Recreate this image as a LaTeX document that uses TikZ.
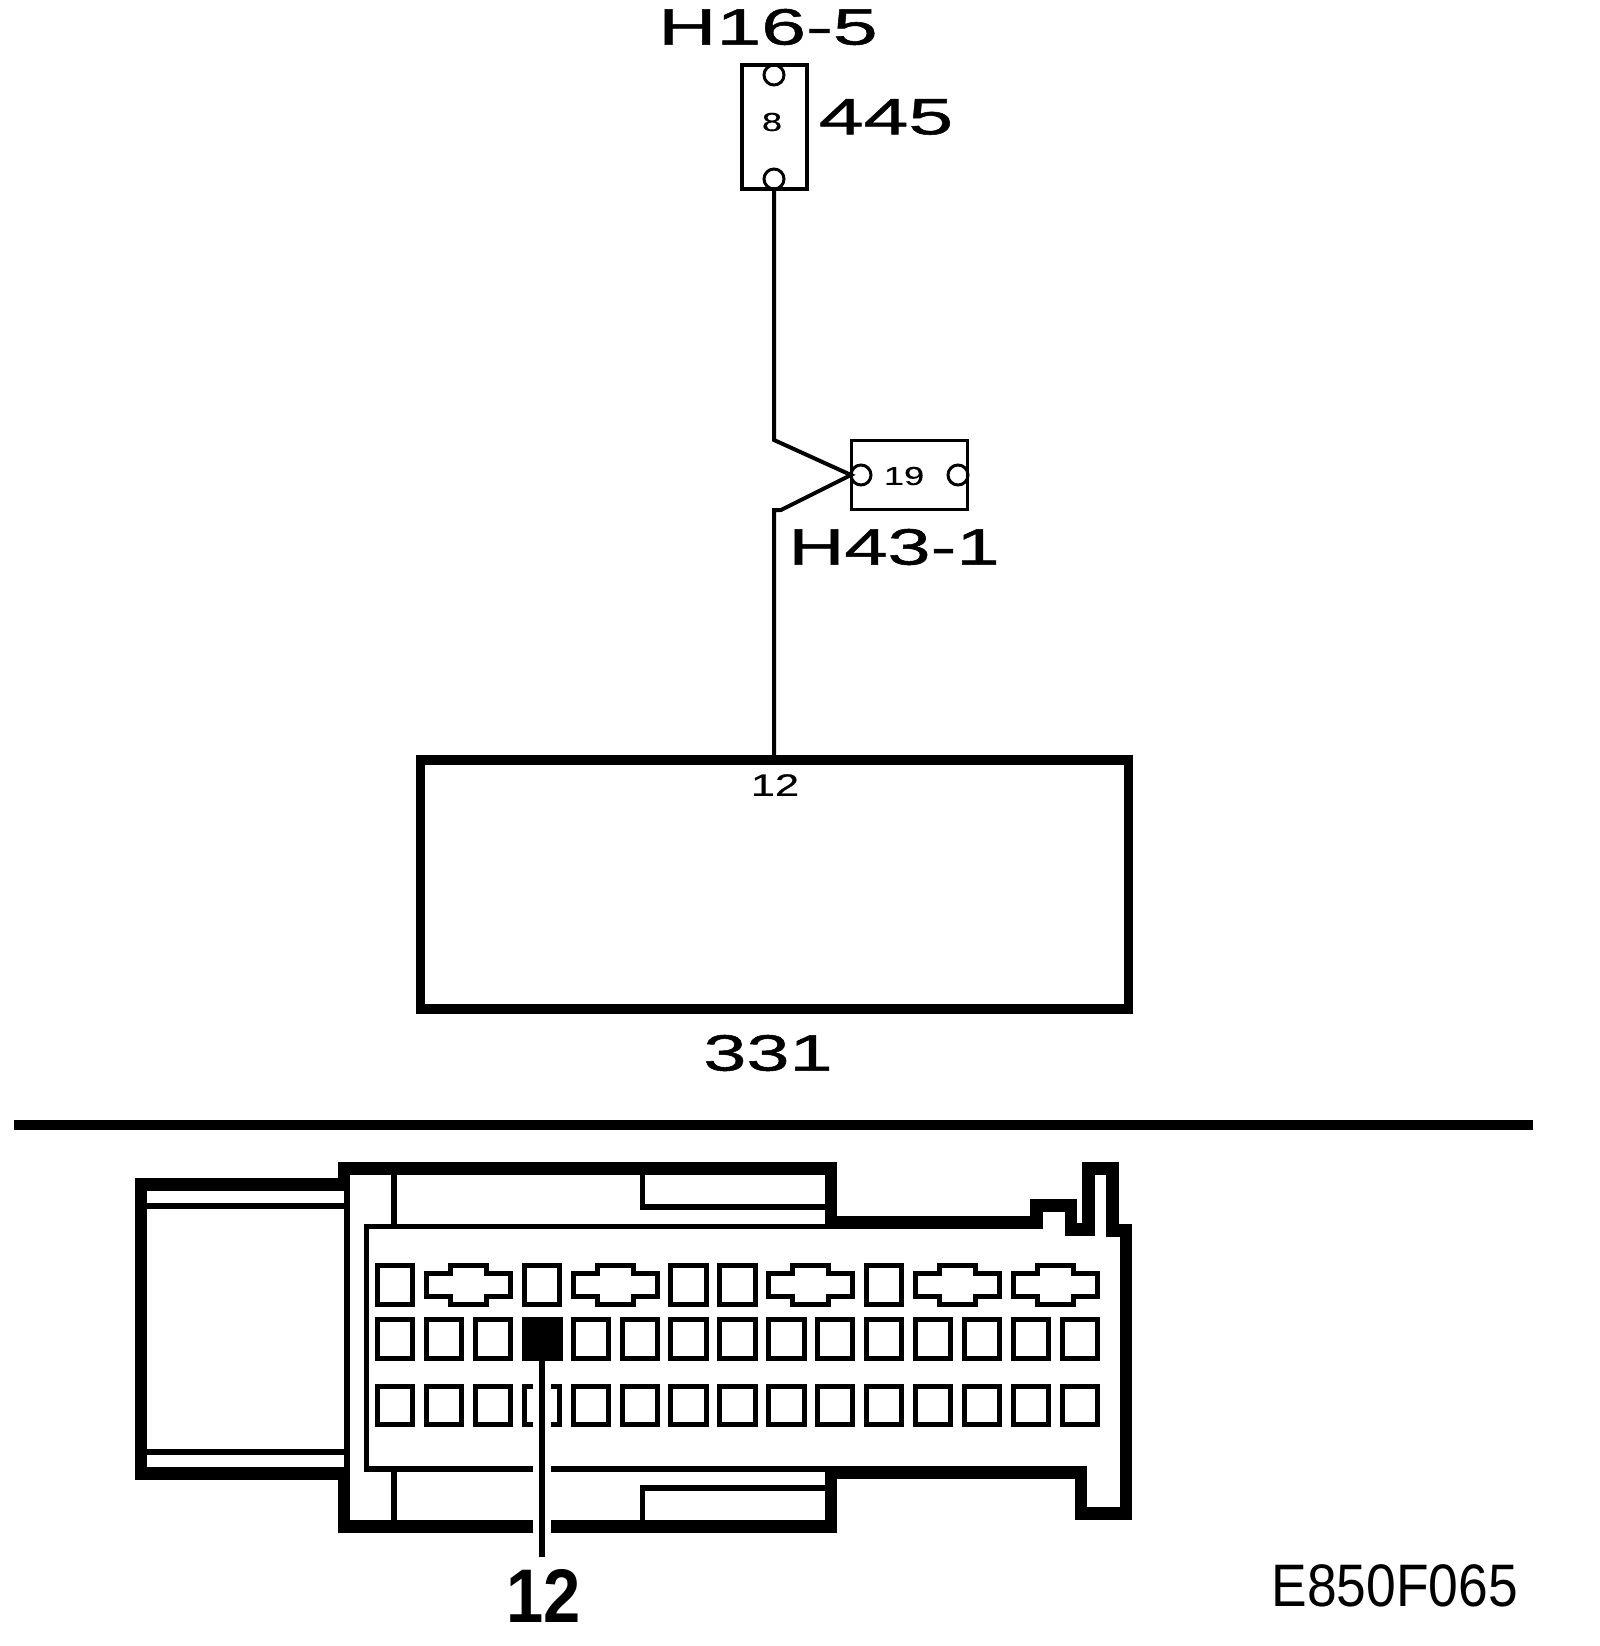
\documentclass[tikz,border=0pt]{standalone}
\usepackage{fontspec}
\setmainfont{Liberation Sans}
\newfontfamily\widefont[FakeStretch=1.52,FakeBold=1.0]{Liberation Sans}
\newfontfamily\widerfont[FakeStretch=1.58,FakeBold=1.0]{Liberation Sans}
\newfontfamily\smallwide[FakeStretch=1.4,FakeBold=0.3]{Liberation Sans}
\newfontfamily\boldnarrow[FakeStretch=0.88]{Liberation Sans Bold}
\newfontfamily\narrowfont[FakeStretch=0.89]{Liberation Sans}
\tikzset{
  bigtext/.style={inner sep=0pt,outer sep=0pt,font=\widefont\fontsize{51}{51}\selectfont},
  biggertext/.style={inner sep=0pt,outer sep=0pt,font=\widerfont\fontsize{51}{51}\selectfont},
  pintext/.style={inner sep=0pt,outer sep=0pt,font=\smallwide\fontsize{26}{26}\selectfont},
  termbox/.style={draw,line width=3.4pt,inner sep=0pt,outer sep=0pt,fill=white},
  termpin/.style={circle,draw,line width=3pt,minimum size=20pt,inner sep=0pt,outer sep=0pt},
  wire/.style={line width=4pt,line join=miter},
  thick wall/.style={line width=12.7pt,line join=miter,line cap=butt},
  thin wall/.style={line width=5.6pt,line join=miter,line cap=butt},
  pinbox/.style={line width=5pt,line join=miter},
}
\begin{document}
\begin{tikzpicture}[x=1pt,y=-1pt]
\useasboundingbox (0,0) rectangle (1600,1646);
% ---- upper schematic
\node[termbox,minimum width=65pt,minimum height=124pt] (b445) at (774.5,127) {};
\node[termpin] (t445a) at (774,75) {};
\node[termpin] (t445b) at (774,179) {};
\node[pintext] (l8) at (772,122) {8};
\node[biggertext] (lh16) at (768,27) {H16-5};
\node[biggertext] (l445) at (886,117) {445};
\node[termbox,minimum width=116pt,minimum height=69pt] (b19) at (909.5,475) {};
\node[termpin] (t19a) at (861,475) {};
\node[termpin] (t19b) at (958,475) {};
\node[pintext] (l19) at (904,476) {19};
\node[bigtext] (lh43) at (894,547) {H43-1};
\node[draw,line width=9.5pt,minimum width=708pt,minimum height=249pt,inner sep=0pt,outer sep=0pt] (b331) at (774.5,884.5) {};
\node[inner sep=0pt,outer sep=0pt,font=\smallwide\fontsize{31}{31}\selectfont] (l12a) at (775,785) {12};
\node[bigtext] (l331) at (768,1053) {331};
\coordinate (w1) at (774,440);
\coordinate (w2) at (774,510);
\draw[wire] (t445b.south) -- (w1) -- (t19a.west) -- (781,510) -- (w2) -- (b331.north -| w2);
% ---- separator
\coordinate (s1) at (14,1125);
\coordinate (s2) at (1533,1125);
\draw[line width=9.6pt] (s1) -- (s2);
% ---- connector outline
\draw[thick wall] (344,1184.5) -- (141,1184.5) -- (141,1473.5) -- (344,1473.5);
\draw[thick wall] (344,1191) -- (344,1168.5) -- (831,1168.5) -- (831,1222.5) -- (1036.5,1222.5) -- (1036.5,1205.6)
  -- (1071,1205.6) -- (1071,1229.5) -- (1088.5,1229.5) -- (1088.5,1168.5) -- (1112.6,1168.5) -- (1112.6,1230.7)
  -- (1126,1230.7) -- (1126,1513.5) -- (1081,1513.5) -- (1081,1472.6) -- (831,1472.6) -- (831,1526.5)
  -- (344,1526.5) -- (344,1467);
% inner thin outlines
\draw[thin wall] (831,1226.5) -- (366.5,1226.5) -- (366.5,1469) -- (831,1469);
\draw[thin wall] (394,1175) -- (394,1226.5);
\draw[thin wall] (394,1469) -- (394,1520);
\draw[thin wall] (642.5,1175) -- (642.5,1207) -- (825,1207);
\draw[thin wall] (642.5,1520) -- (642.5,1488) -- (825,1488);
\draw[thin wall] (147,1206) -- (344,1206);
\draw[thin wall] (147,1452) -- (344,1452);
\draw[thin wall] (347,1191) -- (347,1467);
% ---- pin cavities
\foreach \i in {0,...,14}{
  \pgfmathsetmacro{\L}{375+48.9*\i}
  \draw[pinbox] (\L+2.5,1319.5) rectangle (\L+37.8,1358.5);
  \draw[pinbox] (\L+2.5,1386.5) rectangle (\L+37.8,1424.5);
}
\fill (522,1317) rectangle (562.5,1361);
\foreach \i in {0,3,6,7,10}{
  \pgfmathsetmacro{\L}{375+48.9*\i}
  \draw[pinbox] (\L+2.5,1265.5) rectangle (\L+37.8,1304.5);
}
\foreach \i in {1,4,8,11,13}{
  \pgfmathsetmacro{\L}{375+48.9*\i}
  \draw[pinbox] (\L+2.5,1273.5) -- (\L+26.7,1273.5) -- (\L+26.7,1265.5) -- (\L+62.5,1265.5) -- (\L+62.5,1273.5)
    -- (\L+86.5,1273.5) -- (\L+86.5,1296.5) -- (\L+62.5,1296.5) -- (\L+62.5,1304.5) -- (\L+26.7,1304.5)
    -- (\L+26.7,1296.5) -- (\L+2.5,1296.5) -- cycle;
}
% ---- lead to pin 12
\coordinate (pin12) at (542,1361);
\node[inner sep=0pt,outer sep=0pt,font=\boldnarrow\fontsize{76}{76}\selectfont] (l12b) at (544,1596) {12};
\coordinate (lead) at (542,1557);
\draw[white,line width=18pt] (542,1381) -- (542,1545);
\draw[line width=6pt] (pin12) -- (lead);
\node[anchor=east,inner sep=0pt,outer sep=0pt,font=\narrowfont\fontsize{60}{60}\selectfont] (code) at (1518,1586) {E850F065};
\end{tikzpicture}
\end{document}
